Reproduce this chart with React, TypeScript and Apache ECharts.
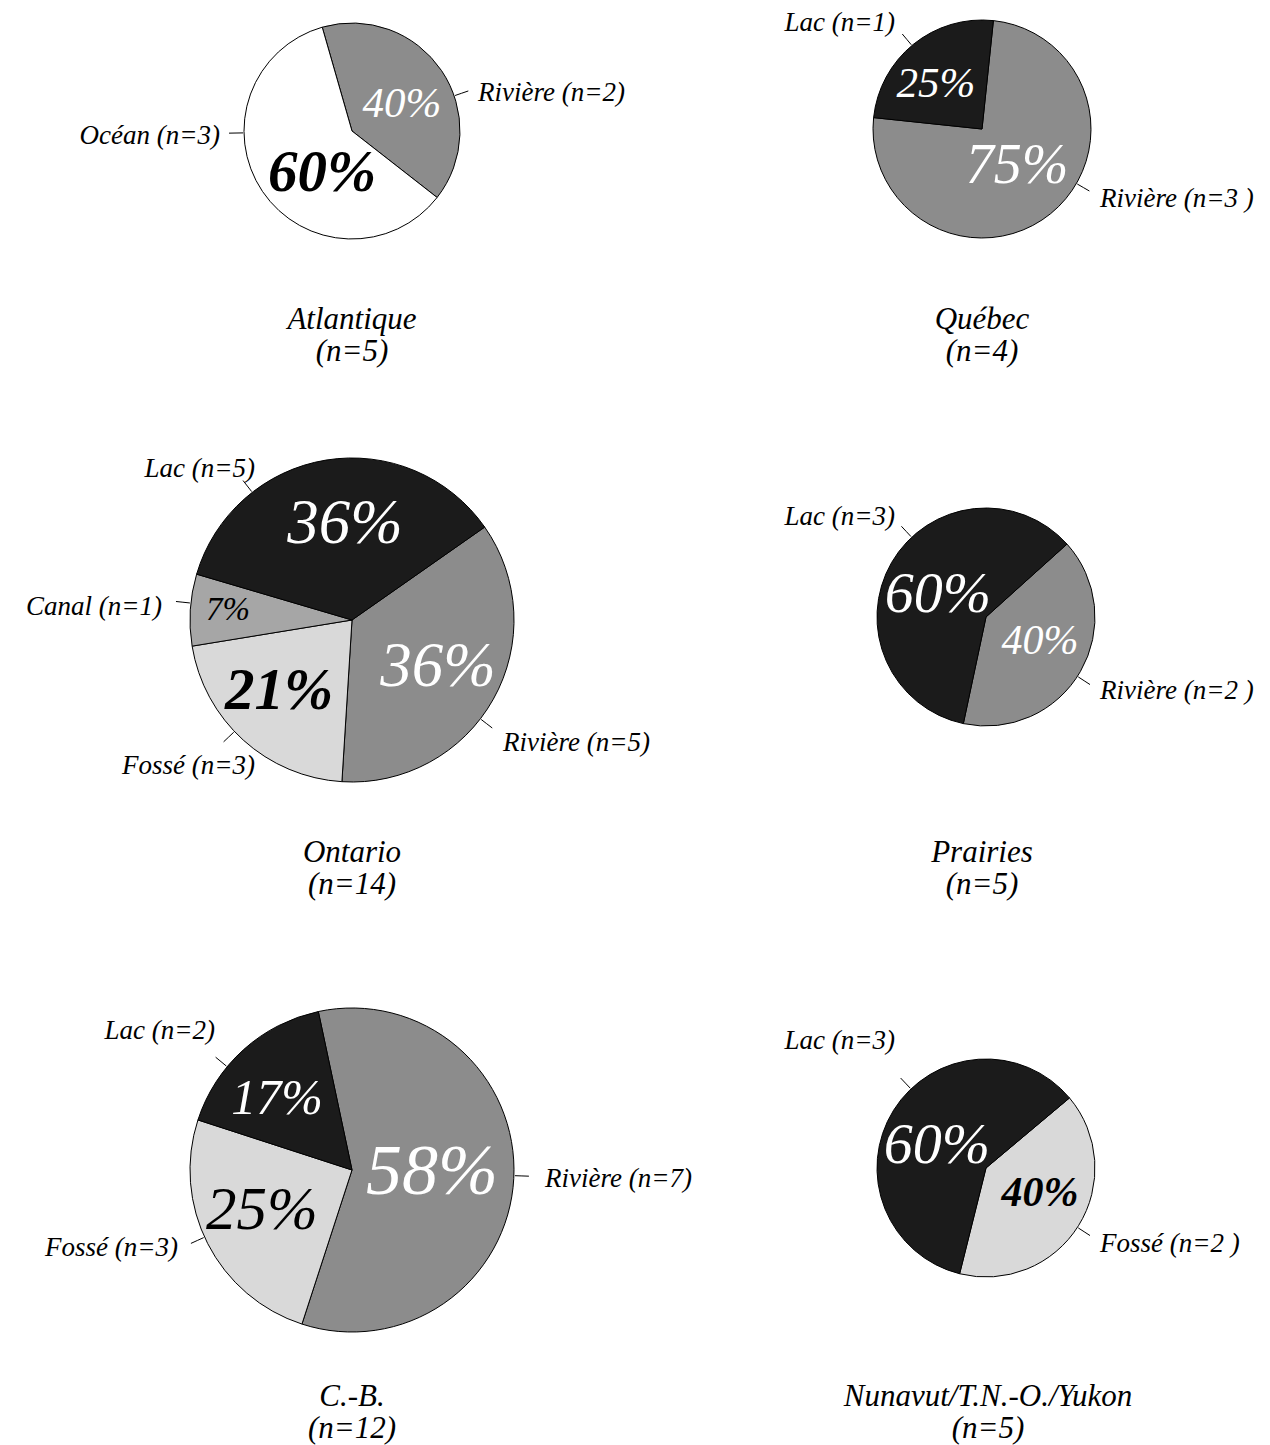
import React, { useEffect, useRef } from "react";
import * as echarts from "echarts";

const FONT = "Liberation Serif";

// ---------- Data ----------
const atlCategories = ["Rivière", "Océan"];
const atlValues = [2, 3];
const atlLabels = ["Rivière (n=2)", "Océan (n=3)"];
const atlTitle = ["Atlantique", "(n=5)"];

const qcCategories = ["Rivière", "Lac"];
const qcValues = [3, 1];
const qcLabels = ["Rivière (n=3 )", "Lac (n=1)"];
const qcTitle = ["Québec", "(n=4)"];

const onCategories = ["Rivière", "Fossé", "Canal", "Lac"];
const onValues = [5, 3, 1, 5];
const onLabels = ["Rivière (n=5)", "Fossé (n=3)", "Canal (n=1)", "Lac (n=5)"];
const onTitle = ["Ontario", "(n=14)"];

const prCategories = ["Rivière", "Lac"];
const prValues = [2, 3];
const prLabels = ["Rivière (n=2 )", "Lac (n=3)"];
const prTitle = ["Prairies", "(n=5)"];

const cbCategories = ["Rivière", "Fossé", "Lac"];
const cbValues = [7, 3, 2];
const cbLabels = ["Rivière (n=7)", "Fossé (n=3)", "Lac (n=2)"];
const cbTitle = ["C.-B.", "(n=12)"];

const nuCategories = ["Fossé", "Lac"];
const nuValues = [2, 3];
const nuLabels = ["Fossé (n=2 )", "Lac (n=3)"];
const nuTitle = ["Nunavut/T.N.-O./Yukon", "(n=5)"];

const CHARTS = [
  { title: atlTitle, cats: atlCategories, values: atlValues, labels: atlLabels },
  { title: qcTitle, cats: qcCategories, values: qcValues, labels: qcLabels },
  { title: onTitle, cats: onCategories, values: onValues, labels: onLabels },
  { title: prTitle, cats: prCategories, values: prValues, labels: prLabels },
  { title: cbTitle, cats: cbCategories, values: cbValues, labels: cbLabels },
  { title: nuTitle, cats: nuCategories, values: nuValues, labels: nuLabels },
];

// ---------- Styles / layout ----------
const COLORS: Record<string, string> = {
  Lac: "#1b1b1b",
  Rivière: "#8c8c8c",
  Fossé: "#d9d9d9",
  Canal: "#a6a6a6",
  Océan: "#ffffff",
};

const W = "#ffffff";
const B = "#000000";

// names: [text x edge, text y, align, leader-line angle (deg, clockwise from 12 o'clock)]
// pct: [dx, dy from pie centre, font size, colour, bold]
type Lay = {
  cx: number;
  cy: number;
  r: number;
  start: number;
  titleX: number;
  titleY: number;
  names: [number, number, "left" | "right", number][];
  pct: [number, number, number, string, boolean][];
};

const LAYOUT: Lay[] = [
  {
    cx: 352, cy: 131, r: 108, start: 106, titleX: 352, titleY: 318,
    names: [[478, 92, "left", 71], [220, 135, "right", 269]],
    pct: [[50, -29, 43, W, false], [-30, 40, 59, B, true]],
  },
  {
    cx: 982, cy: 129, r: 109, start: 84, titleX: 982, titleY: 318,
    names: [[1100, 198, "left", 120], [895, 22, "right", 320]],
    pct: [[35, 35, 56, W, false], [-46, -47, 43, W, false]],
  },
  {
    cx: 352, cy: 620, r: 162, start: 35, titleX: 352, titleY: 851,
    names: [
      [503, 742, "left", 127.6],
      [255, 765, "right", 226.5],
      [162, 606, "right", 276],
      [255, 468, "right", 322],
    ],
    pct: [
      [86, 45, 63, W, false],
      [-73, 69, 59, B, true],
      [-124, -11, 33, B, false],
      [-7, -98, 63, W, false],
    ],
  },
  {
    cx: 986, cy: 617, r: 109, start: 42, titleX: 982, titleY: 851,
    names: [[1100, 690, "left", 123], [895, 516, "right", 317]],
    pct: [[54, 23, 42, W, false], [-48, -25, 58, W, false]],
  },
  {
    cx: 352, cy: 1170, r: 162, start: 102, titleX: 352, titleY: 1395,
    names: [
      [545, 1178, "left", 92],
      [178, 1247, "right", 245.5],
      [215, 1030, "right", 309.6],
    ],
    pct: [
      [80, 0, 72, W, false],
      [-90, 38, 61, B, false],
      [-75, -73, 50, W, false],
    ],
  },
  {
    cx: 986, cy: 1168, r: 109, start: 40, titleX: 988, titleY: 1395,
    names: [[1100, 1243, "left", 123], [895, 1040, "right", 316.5]],
    pct: [[54, 24, 42, B, true], [-49, -25, 58, W, false]],
  },
];

const NAME_SIZE = 27;
const TITLE_SIZE = 31;
const TITLE_GAP = 32;
const LINE_LEN = 14;

function buildOption() {
  const series: any[] = [];
  const titles: any[] = [];

  CHARTS.forEach((c, ci) => {
    const L = LAYOUT[ci];
    c.title.forEach((line, li) => {
      titles.push({
        text: line,
        left: L.titleX,
        top: L.titleY + li * TITLE_GAP - TITLE_SIZE / 2,
        textAlign: "center",
        padding: 0,
        textStyle: {
          fontFamily: FONT,
          fontStyle: "italic",
          fontWeight: "normal",
          fontSize: TITLE_SIZE,
          lineHeight: TITLE_SIZE,
          color: "#000",
        },
      });
    });

    // main pie, with the outside category labels
    series.push({
      type: "pie",
      center: [L.cx, L.cy],
      radius: [0, L.r],
      startAngle: L.start,
      clockwise: true,
      avoidLabelOverlap: false,
      silent: true,
      emphasis: { disabled: true },
      itemStyle: { borderColor: "#000", borderWidth: 1 },
      label: {
        show: true,
        position: "outside",
        color: "#000",
        fontFamily: FONT,
        fontStyle: "italic",
        fontSize: NAME_SIZE,
        formatter: (p: any) => c.labels[p.dataIndex],
      },
      labelLine: {
        show: true,
        length: 10,
        length2: 0,
        lineStyle: { color: "#000", width: 1 },
      },
      labelLayout: (p: any) => {
        const n = L.names[p.dataIndex];
        const a = (n[3] * Math.PI) / 180;
        const pt = (rad: number) => [L.cx + rad * Math.sin(a), L.cy - rad * Math.cos(a)];
        return {
          x: n[0],
          y: n[1],
          align: n[2],
          verticalAlign: "middle",
          labelLinePoints: [pt(L.r + 1), pt(L.r + 1 + LINE_LEN / 2), pt(L.r + 1 + LINE_LEN)],
        };
      },
      data: c.values.map((v, j) => ({
        value: v,
        name: c.cats[j],
        itemStyle: { color: COLORS[c.cats[j]] },
      })),
    });

    // transparent overlay pie carrying the percentage labels
    series.push({
      type: "pie",
      center: [L.cx, L.cy],
      radius: [0, L.r],
      startAngle: L.start,
      clockwise: true,
      avoidLabelOverlap: false,
      silent: true,
      emphasis: { disabled: true },
      itemStyle: { color: "rgba(0,0,0,0)", borderWidth: 0 },
      labelLine: { show: false },
      label: {
        show: true,
        position: "inside",
        rotate: 0,
        fontFamily: FONT,
        fontStyle: "italic",
        formatter: (p: any) => `${Math.round(p.percent)}%`,
      },
      labelLayout: (p: any) => {
        const q = L.pct[p.dataIndex];
        return { x: L.cx + q[0], y: L.cy + q[1], align: "center", verticalAlign: "middle" };
      },
      data: c.values.map((v, j) => {
        const q = L.pct[j];
        return {
          value: v,
          name: c.cats[j],
          label: {
            color: q[3],
            fontSize: q[2],
            fontWeight: q[4] ? "bold" : "normal",
          },
        };
      }),
    });
  });

  return {
    animation: false,
    backgroundColor: "#ffffff",
    title: titles,
    series,
  };
}

export default function App() {
  const ref = useRef<HTMLDivElement>(null);
  useEffect(() => {
    document.body.style.margin = "0";
    const chart = echarts.init(ref.current!, null, { renderer: "svg" });
    chart.setOption(buildOption() as any);
    return () => chart.dispose();
  }, []);
  return <div ref={ref} style={{ width: 1270, height: 1445 }} />;
}
